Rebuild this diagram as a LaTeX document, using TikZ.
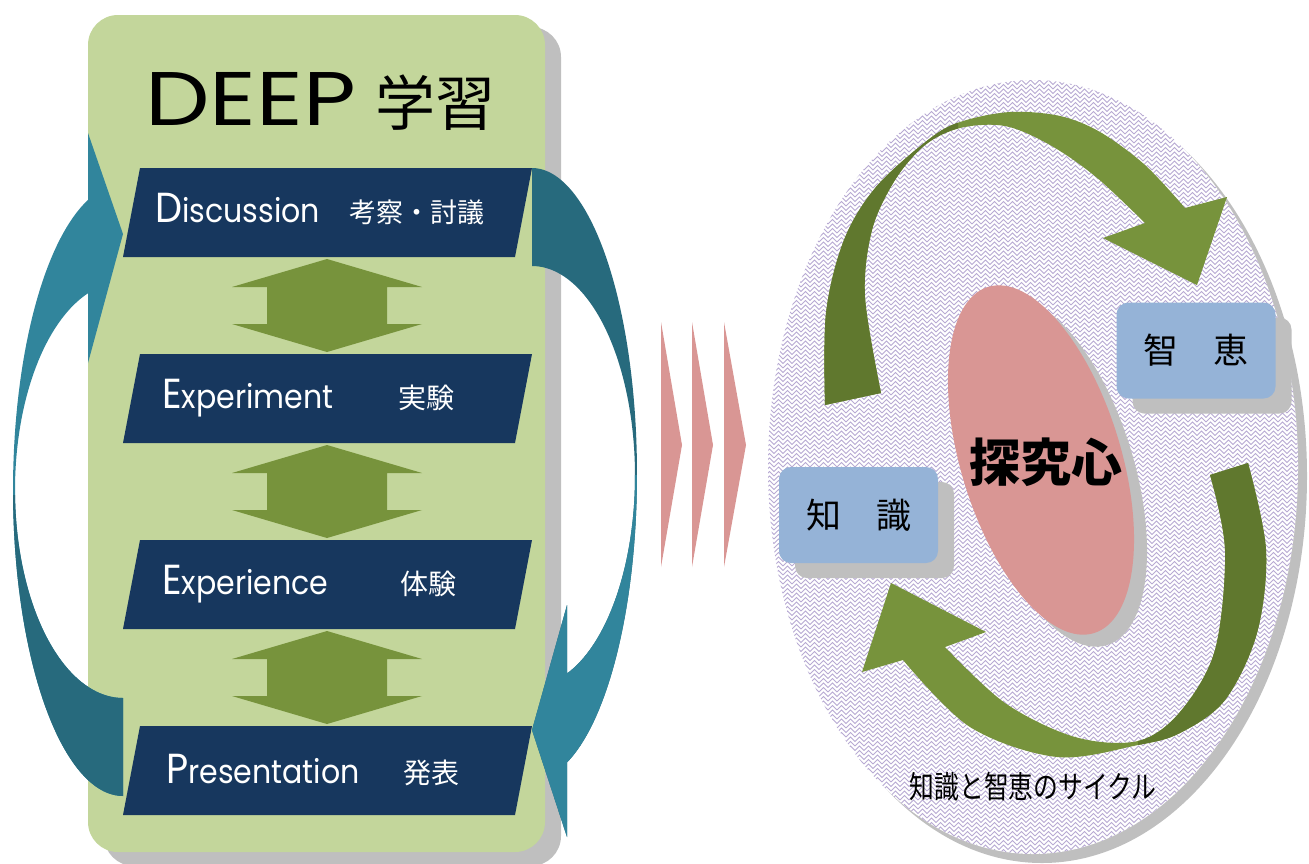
\documentclass[tikz,border=0pt]{standalone}
\usepackage{fontspec}
\setmainfont{Poppins}
\newfontfamily\jp{Noto Sans CJK JP}
\usetikzlibrary{patterns,shadows}
\definecolor{boxgreen}{HTML}{C3D69B}
\definecolor{arrgreen}{HTML}{77933C}
\definecolor{darkgreen}{HTML}{60782E}
\definecolor{navy}{HTML}{17375E}
\definecolor{tealL}{HTML}{31859C}
\definecolor{tealD}{HTML}{276A7D}
\definecolor{pinkc}{HTML}{D99694}
\definecolor{bluebox}{HTML}{95B3D7}
\definecolor{shadowc}{HTML}{BFBFBF}
\definecolor{lav}{HTML}{B8AAD3}
\newcommand\setfs[1]{\fontsize{#1pt}{#1pt}\selectfont}
\pgfdeclarepatternformonly{fret}{\pgfqpoint{-1pt}{-1pt}}{\pgfqpoint{10pt}{10pt}}{\pgfqpoint{9pt}{9pt}}{%
  \pgfsetlinewidth{1pt}%
  \pgfpathmoveto{\pgfqpoint{0pt}{0pt}}\pgfpathlineto{\pgfqpoint{4.5pt}{4.5pt}}\pgfpathlineto{\pgfqpoint{9pt}{0pt}}%
  \pgfpathmoveto{\pgfqpoint{0pt}{4.5pt}}\pgfpathlineto{\pgfqpoint{4.5pt}{9pt}}\pgfpathlineto{\pgfqpoint{9pt}{4.5pt}}%
  \pgfusepath{stroke}}
\tikzset{
  entext/.style={text=white, inner sep=0pt, anchor=base west, xscale=0.91},
  jptext/.style={text=white, inner sep=0pt, anchor=base west, font={\jp\setfs{28}}},
  chiebox/.style={rectangle, rounded corners=12pt, fill=bluebox, minimum width=159pt,
    minimum height=96pt, inner sep=0pt, font={\jp\setfs{35}},
    drop shadow={shadow xshift=16pt, shadow yshift=-15pt, fill=shadowc, opacity=1}},
}
\newcommand\navybox[1]{\fill[navy] (140,#1) -- (532,#1) -- (515,#1+89) -- (123,#1+89) -- cycle;}
\newcommand\dblarrow[2]{\fill[arrgreen] (327,#1) -- (422,#1+28) -- (387,#1+28) -- (387,#2-28) -- (422,#2-28) -- (327,#2) -- (232,#2-28) -- (267,#2-28) -- (267,#1+28) -- (232,#1+28) -- cycle;}
\def\leftarrowpath{(88,200) -- plot[domain=251.5:90,samples=80] ({123+110*cos(\x)},{490+306*sin(\x)}) -- plot[domain=90:251.1,samples=80] ({123+108*cos(\x)},{490+208*sin(\x)}) -- (88,363) -- (123,234) -- (88,133) -- cycle}
\def\rightarrowpath{(532,168) -- plot[domain=-90:70.5,samples=80] ({532+105*cos(\x)},{474+306*sin(\x)}) -- (567,837) -- (532,730) -- (567,605) -- plot[domain=70.1:-90,samples=80] ({532+103*cos(\x)},{476+210*sin(\x)}) -- cycle}
\def\toparrowpath{(825,405) -- plot[smooth,tension=0.55] coordinates {(825,405) (826,313) (844,240) (876,187) (928,140) (960,122) (1010,112) (1060,116) (1100,132) (1145,165) (1185,208)} -- (1227,197) -- (1197,285) -- (1103,238) -- plot[smooth,tension=0.55] coordinates {(1145,223) (1096,177) (1050,145) (1005,126) (960,128) (925,145) (895,180) (872,230) (865,297) (881,393)} -- cycle}
\def\botarrowpath{(1248,463) -- plot[smooth,tension=0.55] coordinates {(1248,463) (1266,550) (1257,633) (1225,700) (1180,733) (1138,745) (1057,757) (970,727) (903,660)} -- (862,672) -- (891,583) -- (986,632) -- plot[smooth,tension=0.55] coordinates {(945,647) (1005,703) (1075,737) (1138,741) (1180,712) (1215,650) (1225,550) (1210,475)} -- cycle}
\begin{document}
\begin{tikzpicture}[x=1pt,y=-1pt]
\useasboundingbox (0,0) rectangle (1309,863);
% ---------- left panel ----------
\fill[shadowc, rounded corners=30pt] (104,27) rectangle (561,866);
\fill[boxgreen, rounded corners=30pt] (88,15) rectangle (545,852);
\node[font=\setfs{76}, anchor=base west, inner sep=0pt, xscale=1.2] (title) at (145,125) {DEEP};
\node[font={\jp\setfs{60}}, anchor=base west, inner sep=0pt] (titlejp) at (375,125) {学習};
\navybox{168}
\navybox{354}
\navybox{540}
\navybox{726}
\dblarrow{259}{352}
\dblarrow{445}{538}
\dblarrow{631}{724}
\node[entext] (den) at (155,222) {\setfs{42}D\setfs{33}iscussion};
\node[jptext, font={\jp\setfs{27}}] (djp) at (349,222) {考察・討議};
\node[entext] (een) at (162,408) {\setfs{42}E\setfs{33}xperiment};
\node[jptext] (ejp) at (398,408) {実験};
\node[entext] (xen) at (162,594) {\setfs{42}E\setfs{33}xperience};
\node[jptext] (xjp) at (400,594) {体験};
\node[entext] (pen) at (166,783) {\setfs{42}P\setfs{33}resentation};
\node[jptext] (pjp) at (403,783) {発表};
% teal curved arrows
\fill[tealL] \leftarrowpath;
\begin{scope}
  \clip (0,495) rectangle (140,863);
  \fill[tealD] \leftarrowpath;
\end{scope}
\fill[tealD] \rightarrowpath;
\begin{scope}
  \clip (520,475) rectangle (660,863);
  \fill[tealL] \rightarrowpath;
\end{scope}
% pink chevrons
\fill[pinkc] (661,322) -- (682,445) -- (661,567) -- cycle;
\fill[pinkc] (692,322) -- (713,445) -- (692,567) -- cycle;
\fill[pinkc] (724,322) -- (746,445) -- (724,567) -- cycle;
% ---------- right panel ----------
\fill[shadowc] (1042,476) ellipse [x radius=265, y radius=387];
\fill[white] (1033,467) ellipse [x radius=265, y radius=387];
\fill[pattern=fret, pattern color=lav] (1033,467) ellipse [x radius=265, y radius=387];
\fill[shadowc, rotate around={17:(1054,472)}] (1054,472) ellipse [x radius=80, y radius=181];
\fill[pinkc, rotate around={17:(1041,460)}] (1041,460) ellipse [x radius=80, y radius=181];
\node[font={\jp\bfseries\setfs{51}}, inner sep=0pt] (tankyu) at (1046,462) {探究心};
\node[chiebox] (chie) at (1196,350.5) {智　恵};
\node[chiebox] (chishiki) at (858.5,515) {知　識};
% green cycle arrows
\fill[arrgreen] \toparrowpath;
\begin{scope}
  \clip (780,60) rectangle (958,420);
  \fill[darkgreen] \toparrowpath;
\end{scope}
\fill[arrgreen] \botarrowpath;
\begin{scope}
  \clip (1138,440) rectangle (1300,780);
  \fill[darkgreen] \botarrowpath;
\end{scope}
\node[font={\jp\setfs{31}}, xscale=0.8, inner sep=0pt] (cycle) at (1033,787) {知識と智恵のサイクル};
\end{tikzpicture}
\end{document}
